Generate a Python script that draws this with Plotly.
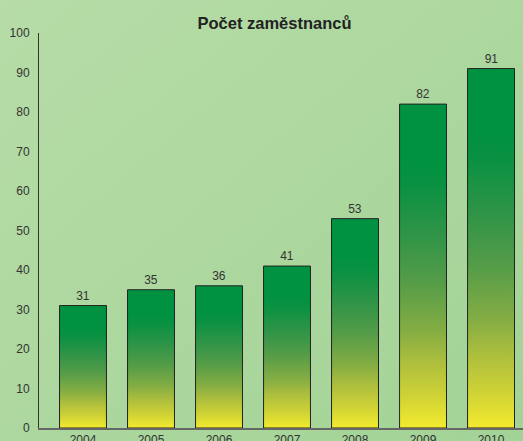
import base64
import plotly.graph_objects as go

years = ["2004", "2005", "2006", "2007", "2008", "2009", "2010"]
employees = [31, 35, 36, 41, 53, 82, 91]
y_ticks = [0, 10, 20, 30, 40, 50, 60, 70, 80, 90, 100]
title_text = "Počet zaměstnanců"

W, H = 523, 441
ML, MR, MT, MB = 39, 0, 33, 13
bar_w = 0.69

grad_scale = [
    [0.0, "#f3eb2e"],
    [0.1, "#cfd236"],
    [0.2, "#aebf3d"],
    [0.3, "#85ad43"],
    [0.45, "#559c48"],
    [0.6, "#2f9447"],
    [0.75, "#0a9142"],
    [0.82, "#009240"],
    [1.0, "#009240"],
]

fig = go.Figure()

# invisible bars carry the value labels
xs = list(range(len(years)))
fig.add_trace(go.Bar(
    x=xs, y=employees, width=bar_w,
    marker=dict(color="rgba(0,0,0,0)", line=dict(width=0)),
    text=[str(v) for v in employees], textposition="outside",
    textfont=dict(family="Liberation Sans, Arial", size=12, color="#333333"),
    cliponaxis=False, hoverinfo="skip", showlegend=False,
))

# gradient-filled bar shapes
for i, v in enumerate(employees):
    x0, x1 = i - bar_w / 2, i + bar_w / 2
    fig.add_trace(go.Scatter(
        x=[x0, x1, x1, x0, x0], y=[0, 0, v, v, 0],
        mode="lines", fill="toself",
        fillgradient=dict(type="vertical", colorscale=grad_scale, start=0, stop=v),
        line=dict(color="#222222", width=1),
        hoverinfo="skip", showlegend=False,
    ))

svg = f'''<svg xmlns="http://www.w3.org/2000/svg" width="{W}" height="{H}">
<defs><linearGradient id="g" x1="0" y1="0" x2="1" y2="1">
<stop offset="0" stop-color="#b7dca7"/><stop offset="1" stop-color="#a2d396"/>
</linearGradient></defs><rect width="{W}" height="{H}" fill="url(#g)"/></svg>'''
src = "data:image/svg+xml;base64," + base64.b64encode(svg.encode()).decode()
pw, ph = W - ML - MR, H - MT - MB

fig.update_layout(
    width=W, height=H,
    margin=dict(l=ML, r=MR, t=MT, b=MB, pad=0, autoexpand=False),
    paper_bgcolor="#aad79c", plot_bgcolor="rgba(0,0,0,0)",
    images=[dict(source=src, xref="paper", yref="paper", x=-ML / pw, y=1 + MT / ph,
                 sizex=W / pw, sizey=H / ph, xanchor="left", yanchor="top",
                 sizing="stretch", layer="below")],
    title=dict(text=f"<b>{title_text}</b>", x=274.5 / W, xanchor="center",
               y=1 - 23 / H, yanchor="middle", automargin=False,
               font=dict(family="Liberation Sans, Arial", size=16.5, color="#222222")),
    font=dict(family="Liberation Sans, Arial", size=12, color="#333333"),
    xaxis=dict(range=[-0.647, 6.47], tickvals=xs, ticktext=years, showgrid=False,
               zeroline=False, showline=True, linecolor="#666666", linewidth=1.5,
               ticks="", fixedrange=True, automargin=False),
    yaxis=dict(range=[0, 100], tickvals=y_ticks, showgrid=False, zeroline=False,
               showline=True, linecolor="#333333", linewidth=1, ticks="",
               ticklabelstandoff=6, fixedrange=True, automargin=False),
    bargap=0,
)

fig.write_html("out.html", config={"displayModeBar": False},
               post_script="document.body.style.margin='0';document.body.style.overflow='hidden';")
